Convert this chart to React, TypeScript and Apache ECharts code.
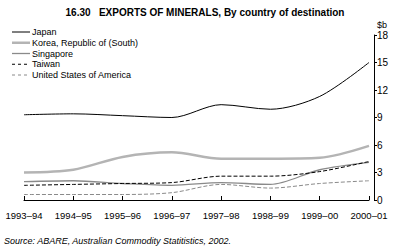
import React, { useEffect, useRef } from "react";
import * as echarts from "echarts";

const categories = ["1993–94", "1994–95", "1995–96", "1996–97", "1997–98", "1998–99", "1999–00", "2000–01"];
const japan = [9.3, 9.4, 9.2, 9.0, 10.4, 9.9, 11.3, 15.0];
const korea = [3.0, 3.3, 4.7, 5.2, 4.5, 4.5, 4.6, 5.9];
const singapore = [2.0, 2.1, 1.8, 1.6, 1.9, 1.7, 3.3, 4.1];
const taiwan = [1.6, 1.7, 1.8, 1.9, 2.6, 2.6, 3.1, 4.2];
const usa = [0.6, 0.6, 0.6, 0.8, 1.7, 1.3, 1.8, 2.1];
const yTicks = [0, 3, 6, 9, 12, 15, 18];

const FONT = "'Liberation Sans', Arial, sans-serif";

const seriesDefs = [
  { name: "Japan", data: japan, color: "#000000", width: 1, type: "solid" },
  { name: "Korea, Republic of (South)", data: korea, color: "#b4b4b4", width: 2.5, type: "solid" },
  { name: "Singapore", data: singapore, color: "#8a8a8a", width: 1.3, type: "solid" },
  { name: "Taiwan", data: taiwan, color: "#000000", width: 1, type: "dashed" },
  { name: "United States of America", data: usa, color: "#8a8a8a", width: 1, type: "dashed" },
];

export default function App() {
  const ref = useRef<HTMLDivElement>(null);
  useEffect(() => {
    const chart = echarts.init(ref.current!, undefined, { renderer: "svg" });
    const legendGraphics: any[] = [];
    seriesDefs.forEach((s, i) => {
      const y = 32 + i * 10.75;
      legendGraphics.push({
        type: "line",
        shape: { x1: 12, y1: y, x2: 30, y2: y },
        style: {
          stroke: s.color,
          lineWidth: s.width,
          lineDash: s.type === "dashed" ? [3, 3] : null,
        },
      });
      legendGraphics.push({
        type: "text",
        x: 32,
        y,
        style: {
          text: s.name,
          fontFamily: FONT,
          fontSize: 9,
          fill: "#000",
          verticalAlign: "middle",
        },
      });
    });
    chart.setOption({
      animation: false,
      backgroundColor: "#fff",
      title: {
        text: "16.30   EXPORTS OF MINERALS, By country of destination",
        left: 200,
        textAlign: "center",
        top: 2,
        textStyle: { fontFamily: FONT, fontSize: 10, fontWeight: "bold", color: "#000" },
      },
      grid: { left: 24, right: 28, top: 35, bottom: 46 },
      xAxis: {
        type: "category",
        data: categories,
        boundaryGap: false,
        offset: 6,
        axisLine: { lineStyle: { color: "#000", width: 1 } },
        axisTick: { inside: true, length: 4, lineStyle: { color: "#000" } },
        axisLabel: { fontFamily: FONT, fontSize: 9.5, color: "#000", margin: 4, interval: 0 },
      },
      yAxis: {
        type: "value",
        position: "right",
        min: 0,
        max: 18,
        interval: 3,
        offset: 5,
        splitLine: { show: false },
        axisLine: { show: true, lineStyle: { color: "#000", width: 1 } },
        axisTick: { show: true, length: 3, lineStyle: { color: "#000" } },
        axisLabel: {
          fontFamily: FONT,
          fontSize: 10,
          color: "#000",
          margin: 3,
          formatter: (v: number) => (yTicks.includes(v) ? String(v) : ""),
        },
      },
      graphic: [
        ...legendGraphics,
        {
          type: "text",
          x: 377,
          y: 20,
          style: { text: "$b", fontFamily: FONT, fontSize: 9, fill: "#000" },
        },
        {
          type: "text",
          x: 4,
          y: 236,
          style: {
            text: "Source: ABARE, Australian Commodity Statitistics, 2002.",
            fontFamily: FONT,
            fontSize: 9,
            fontStyle: "italic",
            fill: "#000",
          },
        },
      ],
      series: seriesDefs.map((s) => ({
        name: s.name,
        type: "line",
        data: s.data,
        symbol: "none",
        smooth: 0.3,
        lineStyle: { color: s.color, width: s.width, type: s.type },
        itemStyle: { color: s.color },
      })),
    });
    return () => chart.dispose();
  }, []);
  return <div ref={ref} style={{ width: 397, height: 246, position: "absolute", left: 0, top: 0 }} />;
}
